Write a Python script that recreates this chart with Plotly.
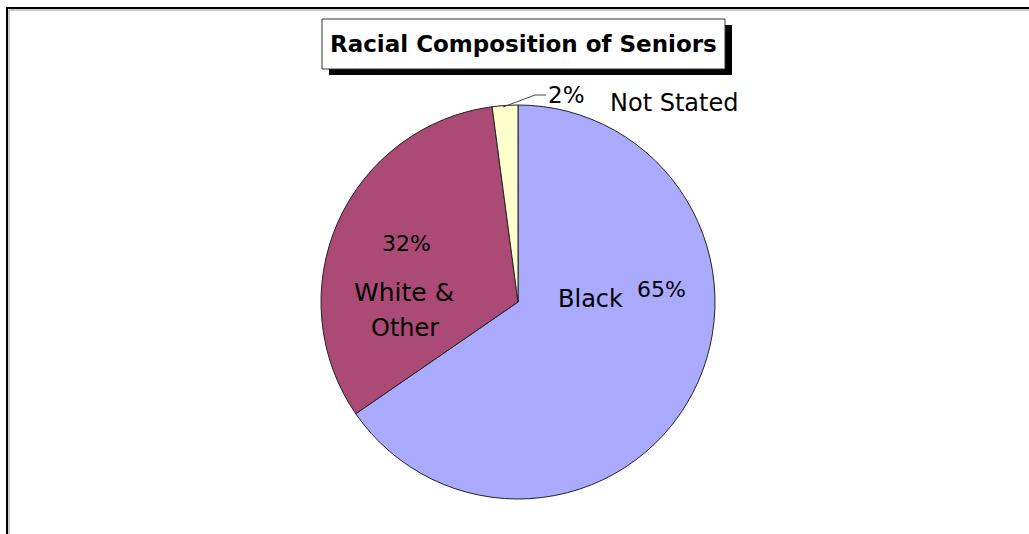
import plotly.graph_objects as go

W, H = 1029, 534

# ---- data ----
categories = ["Black", "White & Other", "Not Stated"]
values = [65.4, 32.5, 2.1]
pct_labels = ["65%", "32%", "2%"]
slice_colors = ["#AAAAFF", "#AA4A75", "#FFFFCC"]
title_text = "Racial Composition of Seniors"

def X(px):
    return px / W

def Y(py):
    return 1 - py / H

fig = go.Figure()
fig.add_trace(go.Pie(
    labels=categories,
    values=values,
    sort=False,
    direction="clockwise",
    rotation=0,
    textinfo="none",
    hoverinfo="label+percent",
    marker=dict(colors=slice_colors, line=dict(color="#222222", width=1)),
    domain=dict(x=[X(321), X(715)], y=[Y(499), Y(105)]),
    showlegend=False,
))

shapes = [
    # chart area border (top & left)
    dict(type="rect", xref="paper", yref="paper", x0=X(7), x1=X(1045), y0=Y(8), y1=Y(560),
         line=dict(color="black", width=2), fillcolor="rgba(0,0,0,0)", layer="below"),
    dict(type="line", xref="paper", yref="paper", x0=X(9), x1=X(1045), y0=Y(10), y1=Y(10),
         line=dict(color="#9a9a9a", width=1)),
    dict(type="line", xref="paper", yref="paper", x0=X(9), x1=X(9), y0=Y(10), y1=Y(560),
         line=dict(color="#9a9a9a", width=1)),
    # title shadow and box
    dict(type="rect", xref="paper", yref="paper", x0=X(329), x1=X(732), y0=Y(75), y1=Y(25),
         line=dict(width=0), fillcolor="black"),
    dict(type="rect", xref="paper", yref="paper", x0=X(322), x1=X(725), y0=Y(69), y1=Y(19),
         line=dict(color="#333333", width=1), fillcolor="white"),
    # leader line for 2%
    dict(type="path", xref="paper", yref="paper",
         path=f"M {X(503)},{Y(107)} L {X(535)},{Y(95)} L {X(546)},{Y(95)}",
         line=dict(color="#444444", width=1)),
]

font = "DejaVu Sans"
annotations = [
    dict(x=X(523.5), y=Y(44), text=f"<b>{title_text}</b>", font=dict(family=font, size=23, color="black")),
    dict(x=X(566), y=Y(95), text=pct_labels[2], font=dict(family=font, size=23, color="black")),
    dict(x=X(674), y=Y(103), text=categories[2], font=dict(family=font, size=24, color="black")),
    dict(x=X(406), y=Y(243), text=pct_labels[1], font=dict(family=font, size=22, color="black")),
    dict(x=X(404), y=Y(292), text="White &", font=dict(family=font, size=25, color="black")),
    dict(x=X(405), y=Y(328), text="Other", font=dict(family=font, size=24, color="black")),
    dict(x=X(590), y=Y(299), text=categories[0], font=dict(family=font, size=24, color="black")),
    dict(x=X(661), y=Y(289), text=pct_labels[0], font=dict(family=font, size=22, color="black")),
]
for a in annotations:
    a.update(xref="paper", yref="paper", showarrow=False, xanchor="center", yanchor="middle")

fig.update_layout(
    width=W, height=H,
    margin=dict(l=0, r=0, t=0, b=0),
    paper_bgcolor="white",
    plot_bgcolor="white",
    shapes=shapes,
    annotations=annotations,
)

fig.write_html("out.html", config={"displayModeBar": False})
